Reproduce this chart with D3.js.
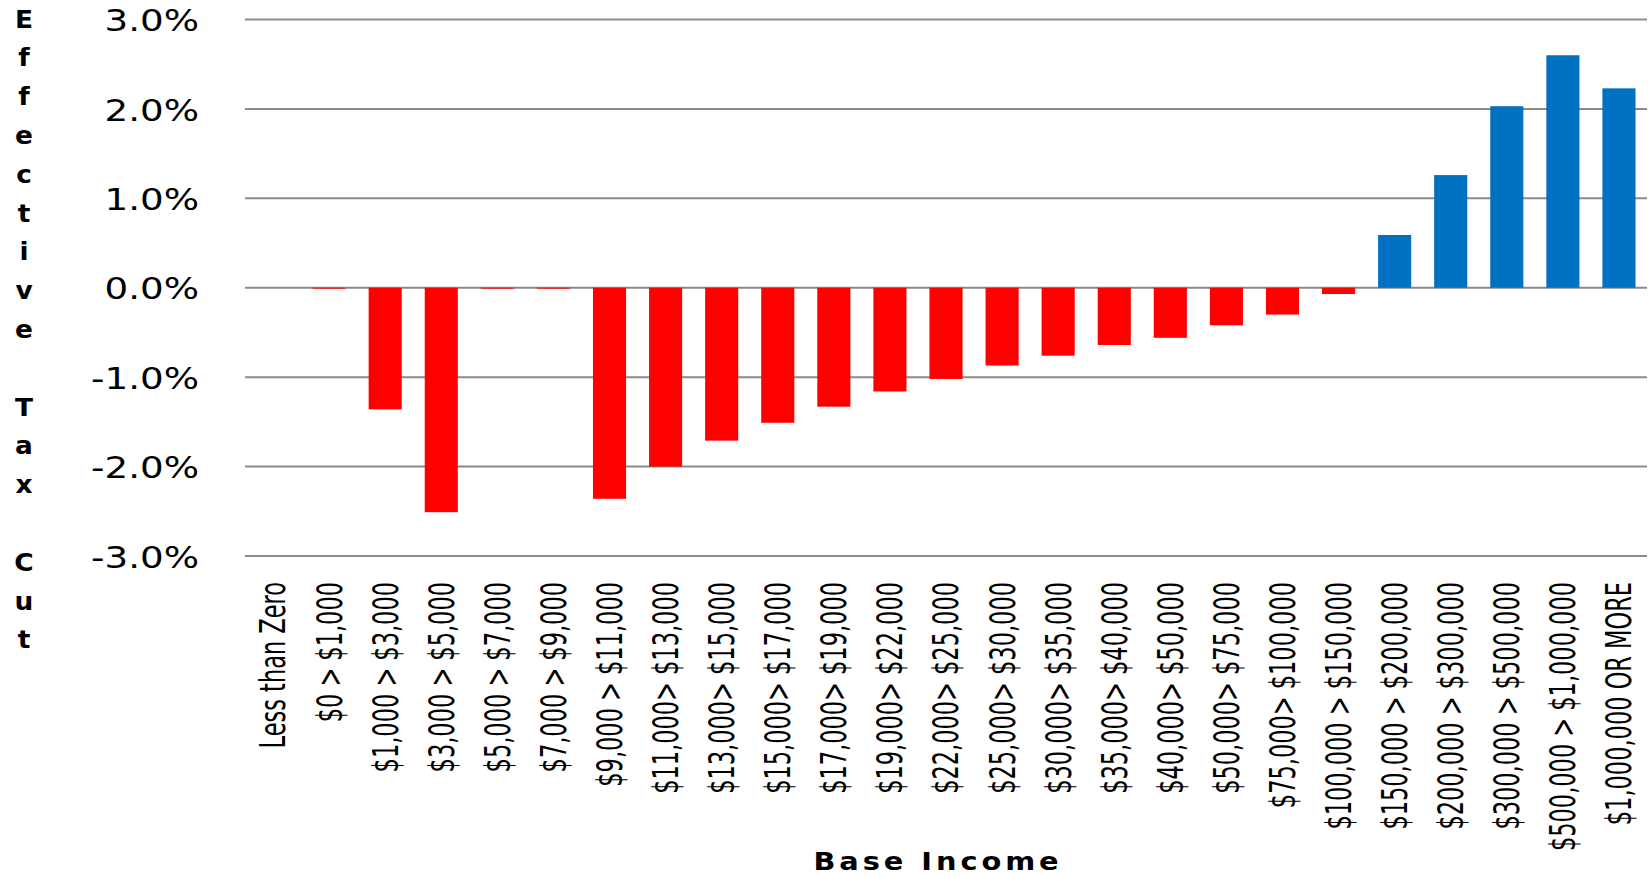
<!DOCTYPE html>
<html>
<head>
<meta charset="utf-8">
<script src="https://cdn.jsdelivr.net/npm/d3@7"></script>
<style>
  html, body { margin: 0; padding: 0; background: #fff; }
</style>
</head>
<body>
<script>
// Income brackets along the x axis
const brackets = ['Less than Zero', '$0 > $1,000', '$1,000 > $3,000', '$3,000 > $5,000', '$5,000 > $7,000',
    '$7,000 > $9,000', '$9,000 > $11,000', '$11,000> $13,000', '$13,000> $15,000', '$15,000> $17,000',
    '$17,000> $19,000', '$19,000> $22,000', '$22,000> $25,000', '$25,000> $30,000', '$30,000> $35,000',
    '$35,000> $40,000', '$40,000> $50,000', '$50,000> $75,000', '$75,000> $100,000', '$100,000 > $150,000',
    '$150,000 > $200,000', '$200,000 > $300,000', '$300,000 > $500,000', '$500,000 > $1,000,000',
    '$1,000,000 OR MORE'];

// Effective tax cut in percent
const taxCut = [0, -0.01, -1.36, -2.51, -0.01, -0.01, -2.36, -2.0, -1.71, -1.51, -1.33, -1.16, -1.02,
    -0.87, -0.76, -0.64, -0.56, -0.42, -0.30, -0.07, 0.59, 1.26, 2.03, 2.60, 2.23];

// Y axis ticks
const yTicks = [-3, -2, -1, 0, 1, 2, 3];

const yTitle = 'Effective Tax Cut';
const xTitle = 'Base Income';

var W = 1650, H = 877;
var plot = { left: 245, right: 1647, top: 19.5, bottom: 556 };
var stretch = 1.2; // the picture's text is drawn a bit wide

var svg = d3.select("body")
    .append("svg")
    .attr("width", W)
    .attr("height", H);

var x = d3.scaleBand()
    .domain(brackets)
    .range([plot.left, plot.right])
    .paddingInner(0.41)
    .paddingOuter(0.205);

var y = d3.scaleLinear()
    .domain([-3, 3])
    .range([plot.bottom, plot.top]);

// Horizontal gridlines
svg.append("g")
    .selectAll("line")
    .data(yTicks)
    .join("line")
    .attr("x1", plot.left)
    .attr("x2", plot.right)
    .attr("y1", d => y(d))
    .attr("y2", d => y(d))
    .attr("stroke", "#8a8a8a")
    .attr("stroke-width", 2);

// Bars: red for cuts, blue for increases
svg.append("g")
    .selectAll("rect")
    .data(taxCut)
    .join("rect")
    .attr("x", (d, i) => x(brackets[i]))
    .attr("width", x.bandwidth())
    .attr("y", d => d >= 0 ? y(d) : y(0))
    .attr("height", d => Math.abs(y(d) - y(0)))
    .attr("fill", d => d > 0 ? "#0070c0" : "#ff0000");

// Y axis tick labels
var yAxis = svg.append("g")
    .attr("transform", `translate(${plot.left},0)`)
    .call(d3.axisLeft(y).tickValues(yTicks).tickSize(0).tickFormat(d => d.toFixed(1) + "%"));
yAxis.select(".domain").remove();
yAxis.selectAll("text")
    .attr("x", 0)
    .attr("dy", "0.36em")
    .attr("transform", `translate(-46,0) scale(${stretch},1)`)
    .attr("text-anchor", "end")
    .style("font-family", "'DejaVu Sans', Verdana, sans-serif")
    .style("font-size", "31px")
    .style("fill", "#000");

// X axis tick labels, rotated; the narrow font is drawn tall and squeezed
var labelSize = 25, labelStretch = 1.42;
var xAxis = svg.append("g")
    .attr("transform", `translate(0,${plot.bottom})`)
    .call(d3.axisBottom(x).tickSize(0));
xAxis.select(".domain").remove();
xAxis.selectAll("text")
    .attr("x", 0)
    .attr("y", 0)
    .attr("dy", "0.35em")
    .attr("transform", `translate(0,26) scale(${labelStretch},1) rotate(-90)`)
    .attr("text-anchor", "end")
    .style("font-family", "'DejaVu Sans Condensed', 'DejaVu Sans', sans-serif")
    .style("font-stretch", "condensed")
    .style("font-size", labelSize + "px")
    .style("fill", "#000");

// Y axis title, one letter per line
svg.append("g")
    .selectAll("text")
    .data(yTitle.split(""))
    .join("text")
    .attr("transform", (d, i) => `translate(24,${27.5 + i * 38.8}) scale(1.1,1)`)
    .attr("text-anchor", "middle")
    .style("font-family", "'DejaVu Sans', sans-serif")
    .style("font-weight", "bold")
    .style("font-size", "24px")
    .text(d => d);

// X axis title
svg.append("text")
    .attr("transform", `translate(938,870) scale(${stretch},1)`)
    .attr("text-anchor", "middle")
    .style("font-family", "'DejaVu Sans', sans-serif")
    .style("font-weight", "bold")
    .style("font-size", "24px")
    .style("letter-spacing", "3.3px")
    .text(xTitle);
</script>
</body>
</html>
